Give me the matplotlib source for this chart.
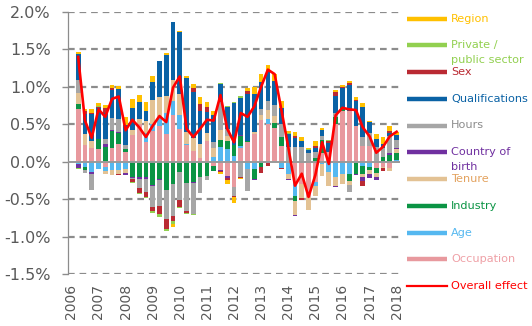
import matplotlib
matplotlib.use("Agg")
import matplotlib.pyplot as plt
from matplotlib.lines import Line2D
import numpy as np

# ---- data (percentage points), quarterly 2006Q2 .. 2018Q1 ----
occupation = [0.70, 0.22, 0.183, 0.165, -0.067, 0.183, 0.24, 0.125, 0.36, 0.5, 0.27, 0.41, 0.48, 0.366, 0.62, 0.44,
              0.22, 0.143, 0.054, 0.277, -0.06, -0.107, -0.196, -0.34, 0.18, 0.26, 0.375, 0.554, 0.5, 0.45, 0.205, 0.0,
              -0.27, -0.30, -0.47, -0.27, 0.116, 0.13, 0.505, 0.68, 0.68, 0.48, 0.21, 0.214, -0.09, -0.067, -0.09, -0.022]
age = [-0.036, -0.07, -0.138, -0.094, -0.054, -0.107, -0.107, -0.1, 0.0, 0.0, 0.11, 0.10, 0.12, 0.28, 0.19, 0.18,
       0.013, 0.0, 0.0, 0.0, 0.06, 0.196, 0.174, 0.08, 0.035, -0.094, -0.094, 0.0, 0.067, 0.0, -0.09, -0.16,
       -0.19, 0.0, 0.0, -0.055, -0.036, -0.138, -0.2, -0.17, -0.17, -0.02, -0.058, -0.067, 0.0, 0.0, 0.0, 0.02]
industry = [0.076, -0.045, 0.0, 0.134, 0.19, 0.223, 0.15, 0.045, -0.2, -0.2, -0.2, -0.31, -0.23, -0.38, -0.30, -0.14,
            -0.285, -0.277, -0.2, -0.187, -0.06, 0.09, 0.103, 0.14, 0.13, 0.022, -0.134, -0.07, 0.0, 0.067, 0.125, 0.0,
            -0.06, 0.0, 0.0, 0.045, 0.17, 0.0, 0.098, 0.045, -0.09, -0.14, -0.1, -0.045, -0.067, 0.067, 0.09, 0.09]
tenure = [0.147, 0.147, 0.094, 0.01, -0.04, -0.076, -0.054, -0.045, 0.06, 0.076, 0.165, 0.31, 0.27, 0.237, 0.28, 0.28,
          0.165, 0.17, 0.18, 0.107, 0.12, 0.134, 0.063, 0.0, 0.0, 0.0, 0.022, 0.067, 0.12, 0.09, 0.0, -0.067,
          -0.19, -0.18, -0.17, -0.135, -0.16, -0.18, -0.125, -0.13, -0.054, 0.0, -0.045, -0.058, -0.045, -0.013, -0.036, 0.054]
country_of_birth = [-0.045, 0.0, -0.03, 0.0, 0.045, 0.013, 0.013, -0.036, -0.022, -0.03, -0.03, -0.02, -0.015, 0.0, 0.0, 0.0,
                    0.0, -0.013, 0.0, -0.01, -0.01, -0.013, -0.02, 0.0, 0.015, -0.01, -0.013, 0.0, -0.018, 0.0, 0.0, -0.013,
                    -0.013, 0.0, 0.0, 0.0, 0.0, 0.0, -0.013, 0.0, 0.0, -0.018, -0.058, -0.045, -0.045, 0.0, 0.022, 0.013]
hours = [0.165, -0.036, -0.214, 0.0, 0.063, 0.17, 0.17, 0.054, -0.01, -0.125, -0.18, -0.27, -0.35, -0.39, -0.42, -0.37,
         -0.38, -0.41, -0.22, -0.05, 0.08, 0.38, 0.10, -0.12, -0.2, -0.29, 0.0, 0.08, 0.12, 0.147, 0.17, 0.196,
         0.196, 0.2, 0.11, 0.09, 0.054, 0.0, 0.045, 0.0, -0.09, 0.0, 0.12, 0.165, 0.19, 0.12, 0.23, 0.11]
qualifications = [0.35, 0.277, 0.366, 0.41, 0.35, 0.366, 0.4, 0.26, 0.30, 0.22, 0.134, 0.25, 0.48, 0.545, 0.77, 0.83,
                  0.72, 0.616, 0.44, 0.286, 0.36, 0.237, 0.286, 0.56, 0.49, 0.625, 0.505, 0.36, 0.406, 0.326, 0.223, 0.18,
                  0.125, 0.076, 0.045, 0.054, 0.08, 0.12, 0.23, 0.26, 0.35, 0.33, 0.4, 0.147, 0.116, 0.045, 0.045, 0.067]
sex = [0.0, 0.03, 0.013, 0.018, 0.067, 0.036, -0.013, 0.0, -0.045, -0.058, -0.06, -0.06, -0.11, -0.125, -0.07, -0.09,
       -0.022, 0.054, 0.1, 0.067, 0.0, -0.022, -0.03, -0.015, -0.022, 0.035, 0.0, -0.08, -0.045, 0.0, -0.013, 0.0,
       0.022, -0.03, 0.0, 0.027, 0.0, 0.022, 0.054, 0.018, 0.018, 0.018, -0.063, 0.0, 0.0, -0.045, 0.022, 0.0]
private_public = [-0.013, 0.0, 0.0, 0.005, 0.0, 0.0, 0.0, 0.0, -0.013, -0.013, -0.018, -0.02, -0.03, -0.03, -0.045, -0.02,
                  -0.01, -0.013, 0.0, 0.0, 0.0, 0.01, 0.013, 0.02, 0.025, 0.0, 0.0, 0.0, 0.0, -0.01, 0.0, 0.01,
                  0.0, 0.0, 0.01, 0.0, 0.0, 0.013, 0.0, 0.0, 0.0, 0.0, 0.0, 0.0, 0.0, 0.0, 0.0, 0.0]
region = [0.022, 0.027, 0.045, 0.045, 0.04, 0.03, 0.045, 0.11, 0.12, 0.09, 0.125, 0.08, 0.0, 0.022, -0.035, 0.015,
          0.022, 0.058, 0.09, 0.058, 0.055, -0.022, -0.05, -0.075, -0.01, 0.045, 0.098, 0.11, 0.076, 0.09, 0.085, 0.03,
          0.054, 0.058, 0.02, 0.06, 0.036, -0.013, 0.022, 0.027, 0.036, 0.036, 0.054, 0.018, 0.07, 0.098, 0.067, 0.045]
overall_effect = [1.40, 0.55, 0.32, 0.70, 0.60, 0.84, 0.87, 0.42, 0.56, 0.46, 0.33, 0.48, 0.61, 0.53, 0.99, 1.14,
                  0.44, 0.33, 0.44, 0.56, 0.55, 0.89, 0.44, 0.26, 0.65, 0.60, 0.74, 1.00, 1.23, 1.17, 0.69, 0.20,
                  -0.32, -0.16, -0.47, -0.18, 0.26, -0.03, 0.62, 0.72, 0.70, 0.69, 0.46, 0.34, 0.12, 0.20, 0.34, 0.40]
year_labels = [str(y) for y in range(2006, 2019)]

series_names = ["Occupation", "Age", "Industry", "Tenure", "Country of\nbirth", "Hours",
                "Qualifications", "Sex", "Private /\npublic sector", "Region"]
series_vals = [occupation, age, industry, tenure, country_of_birth, hours,
               qualifications, sex, private_public, region]
bar_colors = ["#E8999E", "#55B8F0", "#0B9444", "#E3C294", "#7030A0", "#A6A6A6",
              "#0A62A5", "#BA2A33", "#92D050", "#FFC000"]
text_colors = ["#EFA0A6", "#55B8F0", "#0B9444", "#E3A25E", "#7030A0", "#8C8C8C",
               "#0A62A5", "#BA2A33", "#92D050", "#FFC000"]

W, H = 532, 326
fig = plt.figure(figsize=(W / 100, H / 100), dpi=100)
ax = fig.add_axes([68 / W, 1 - 274 / H, (400 - 68) / W, (274 - 12) / H])

n = len(overall_effect)
x = np.arange(1, n + 1)
pos_bottom = np.zeros(n)
neg_bottom = np.zeros(n)
for vals, col in zip(series_vals, bar_colors):
    v = np.array(vals)
    b = np.where(v >= 0, pos_bottom, neg_bottom)
    ax.bar(x, v, bottom=b, width=0.7, color=col, linewidth=0, zorder=3)
    pos_bottom += np.clip(v, 0, None)
    neg_bottom += np.clip(v, None, 0)

ax.plot(x, overall_effect, color="#FF0000", lw=1.9, zorder=5, solid_joinstyle="round")

ax.set_xlim(-0.5, 48.5)
ax.set_ylim(-1.5, 2.0)
yt = np.arange(-1.5, 2.01, 0.5)
ax.set_yticks(yt)
ax.set_yticklabels([f"{v:.1f}%" for v in yt])
for v in yt:
    if abs(v) > 1e-9:
        ax.axhline(v, color="#8C8C8C", lw=1.6, linestyle=(0, (3.0, 2.2)), zorder=1)
ax.axhline(0, color="#9A9A9A", lw=1.4, zorder=4)

ax.set_xticks(np.arange(0, 49, 4))
ax.set_xticklabels(year_labels, rotation=90, fontsize=10, color="#595959")
ax.tick_params(axis="x", length=0, pad=7)
ax.tick_params(axis="y", length=4.5, width=1.0, color="#8C8C8C", pad=8, labelsize=11.5, labelcolor="#595959")

for s in ["top", "right", "bottom"]:
    ax.spines[s].set_visible(False)
ax.spines["left"].set_color("#8C8C8C")
ax.spines["left"].set_linewidth(0.9)

# ---- legend (drawn at the right of the plot) ----
def fx(px):
    return px / W

def fy(py):
    return 1 - py / H

legend_order = list(range(9, -1, -1))
y0, dy = 18.5, 26.75
for k, idx in enumerate(legend_order):
    yc = y0 + k * dy
    fig.add_artist(Line2D([fx(407), fx(447)], [fy(yc), fy(yc)], color=bar_colors[idx], lw=3.2,
                          solid_capstyle="butt"))
    lines = series_names[idx].split("\n")
    for j, line in enumerate(lines):
        fig.text(fx(451), fy(yc + j * 14.5), line, color=text_colors[idx], fontsize=8.1,
                 va="center", ha="left")
yc = y0 + 10 * dy
fig.add_artist(Line2D([fx(407), fx(447)], [fy(yc), fy(yc)], color="#FF0000", lw=1.6))
fig.text(fx(451), fy(yc), "Overall effect", color="#FF0000", fontsize=8.1, va="center", ha="left")

fig.savefig("out.png", dpi=100)
